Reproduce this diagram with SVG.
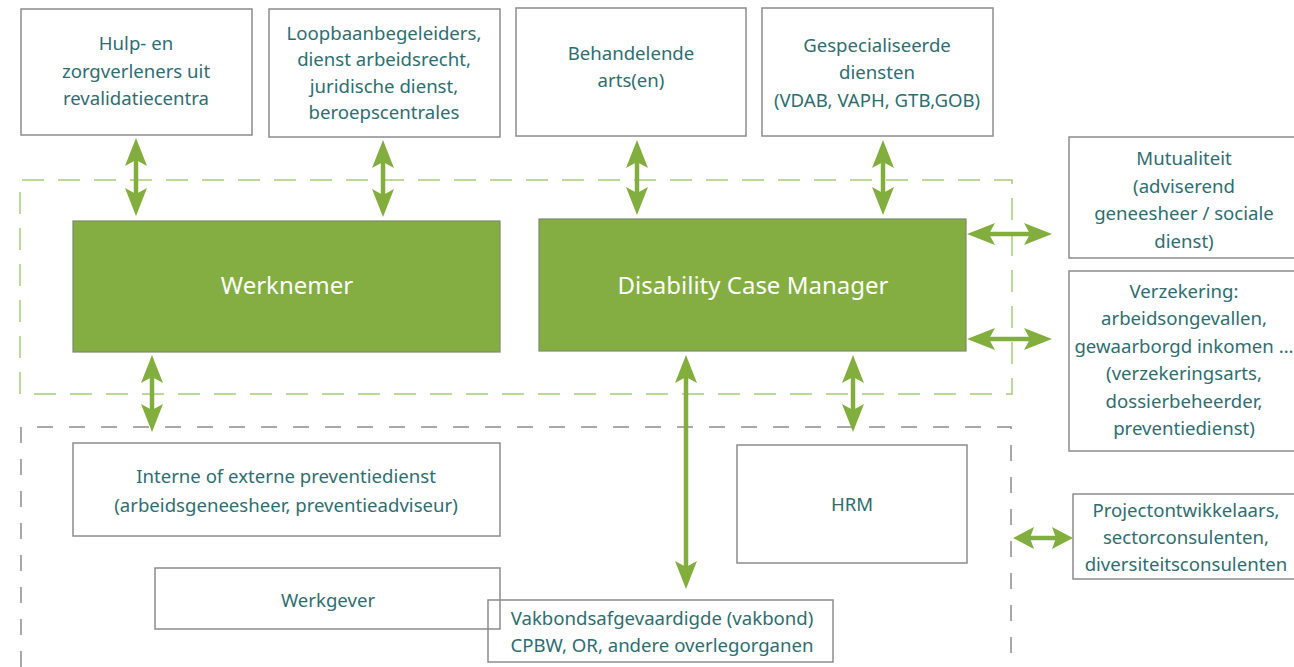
<svg xmlns="http://www.w3.org/2000/svg" width="1294" height="667" viewBox="0 0 1294 667">
<style>
  .box { fill: none; stroke: #8c8c8c; stroke-width: 1.5; }
  .main { fill: #84ae42; stroke: #7a8a6a; stroke-width: 1.2; }
  .t { font-family: "Noto Sans", "Open Sans", sans-serif; font-size: 18.6px; fill: #2e6e70; text-anchor: middle; }
  .tw { font-family: "Noto Sans", "Open Sans", sans-serif; font-size: 24px; fill: #ffffff; text-anchor: middle; }
  .gdash { fill: none; stroke: #a8cd78; stroke-width: 1.5; stroke-dasharray: 22 14; }
  .ydash { fill: none; stroke: #8c8c8c; stroke-width: 1.5; stroke-dasharray: 16 16; }
  .arr { stroke: #82ae3e; stroke-width: 4.5; fill: none; marker-start: url(#ah); marker-end: url(#ah); }
  .arr2 { stroke: #82ae3e; stroke-width: 4.5; fill: none; marker-start: url(#ah2); marker-end: url(#ah2); }
</style>
<defs>
  <marker id="ah" markerUnits="userSpaceOnUse" viewBox="0 0 28 22" markerWidth="28" markerHeight="22" refX="8" refY="11" orient="auto-start-reverse">
    <path d="M0,0 L28,11 L0,22 L6,11 Z" fill="#82ae3e"/>
  </marker>
  <marker id="ah2" markerUnits="userSpaceOnUse" viewBox="0 0 21 22" markerWidth="21" markerHeight="22" refX="6" refY="11" orient="auto-start-reverse">
    <path d="M0,0 L21,11 L0,22 L4,11 Z" fill="#82ae3e"/>
  </marker>
</defs>
<rect width="1294" height="667" fill="#ffffff"/>

<g id="groups">
  <path class="gdash" d="M20,394 V180 H1012 V394 Z"/>
  <path class="ydash" d="M21,667 V427 H1011 V667"/>
</g>

<g id="hulp">
  <rect class="box" x="21" y="9" width="231" height="126"/>
  <text class="t" x="136" y="50">Hulp- en</text>
  <text class="t" x="136" y="78">zorgverleners uit</text>
  <text class="t" x="136" y="105">revalidatiecentra</text>
</g>
<g id="loopbaan">
  <rect class="box" x="269" y="9" width="231" height="128"/>
  <text class="t" x="384" y="39.5">Loopbaanbegeleiders,</text>
  <text class="t" x="384" y="66">dienst arbeidsrecht,</text>
  <text class="t" x="384" y="92.5">juridische dienst,</text>
  <text class="t" x="384" y="119">beroepscentrales</text>
</g>
<g id="behandelende">
  <rect class="box" x="516" y="8" width="230" height="128"/>
  <text class="t" x="631" y="60">Behandelende</text>
  <text class="t" x="631" y="87">arts(en)</text>
</g>
<g id="gespecialiseerde">
  <rect class="box" x="762" y="8" width="231" height="128"/>
  <text class="t" x="877" y="52">Gespecialiseerde</text>
  <text class="t" x="877" y="79">diensten</text>
  <text class="t" x="877" y="107">(VDAB, VAPH, GTB,GOB)</text>
</g>
<g id="mutualiteit">
  <rect class="box" x="1069" y="137" width="230" height="121"/>
  <text class="t" x="1184" y="165">Mutualiteit</text>
  <text class="t" x="1184" y="193">(adviserend</text>
  <text class="t" x="1184" y="220">geneesheer / sociale</text>
  <text class="t" x="1184" y="248">dienst)</text>
</g>
<g id="verzekering">
  <rect class="box" x="1069" y="271" width="230" height="180"/>
  <text class="t" x="1184" y="298">Verzekering:</text>
  <text class="t" x="1184" y="325">arbeidsongevallen,</text>
  <text class="t" x="1184" y="353">gewaarborgd inkomen ...</text>
  <text class="t" x="1184" y="380">(verzekeringsarts,</text>
  <text class="t" x="1184" y="408">dossierbeheerder,</text>
  <text class="t" x="1184" y="435">preventiedienst)</text>
</g>
<g id="werknemer">
  <rect class="main" x="73" y="221" width="427" height="131"/>
  <text class="tw" x="287" y="294">Werknemer</text>
</g>
<g id="dcm">
  <rect class="main" x="539" y="219" width="427" height="132"/>
  <text class="tw" x="753" y="294">Disability Case Manager</text>
</g>
<g id="preventiedienst">
  <rect class="box" x="73" y="443" width="427" height="93"/>
  <text class="t" x="286" y="483">Interne of externe preventiedienst</text>
  <text class="t" x="286" y="512">(arbeidsgeneesheer, preventieadviseur)</text>
</g>
<g id="hrm">
  <rect class="box" x="737" y="445" width="230" height="118"/>
  <text class="t" x="852" y="511">HRM</text>
</g>
<g id="werkgever">
  <rect class="box" x="155" y="568" width="345" height="61"/>
  <text class="t" x="328" y="607">Werkgever</text>
</g>
<g id="vakbond">
  <rect class="box" x="488" y="600" width="345" height="62"/>
  <text class="t" x="662" y="625">Vakbondsafgevaardigde (vakbond)</text>
  <text class="t" x="662" y="652">CPBW, OR, andere overlegorganen</text>
</g>
<g id="project">
  <rect class="box" x="1073" y="494" width="230" height="85"/>
  <text class="t" x="1186" y="517">Projectontwikkelaars,</text>
  <text class="t" x="1186" y="544">sectorconsulenten,</text>
  <text class="t" x="1186" y="571">diversiteitsconsulenten</text>
</g>

<g id="connectors">
  <line class="arr" x1="136" y1="158" x2="136" y2="196"/>
  <line class="arr" x1="383" y1="160" x2="383" y2="197"/>
  <line class="arr" x1="637" y1="160" x2="637" y2="195"/>
  <line class="arr" x1="883" y1="160" x2="883" y2="195"/>
  <line class="arr" x1="987" y1="234" x2="1032" y2="234"/>
  <line class="arr" x1="987" y1="339" x2="1032" y2="339"/>
  <line class="arr" x1="152" y1="375" x2="152" y2="412"/>
  <line class="arr" x1="686" y1="375" x2="686" y2="569"/>
  <line class="arr" x1="853" y1="375" x2="853" y2="412"/>
  <line class="arr2" x1="1028" y1="538" x2="1058" y2="538"/>
</g>
</svg>
